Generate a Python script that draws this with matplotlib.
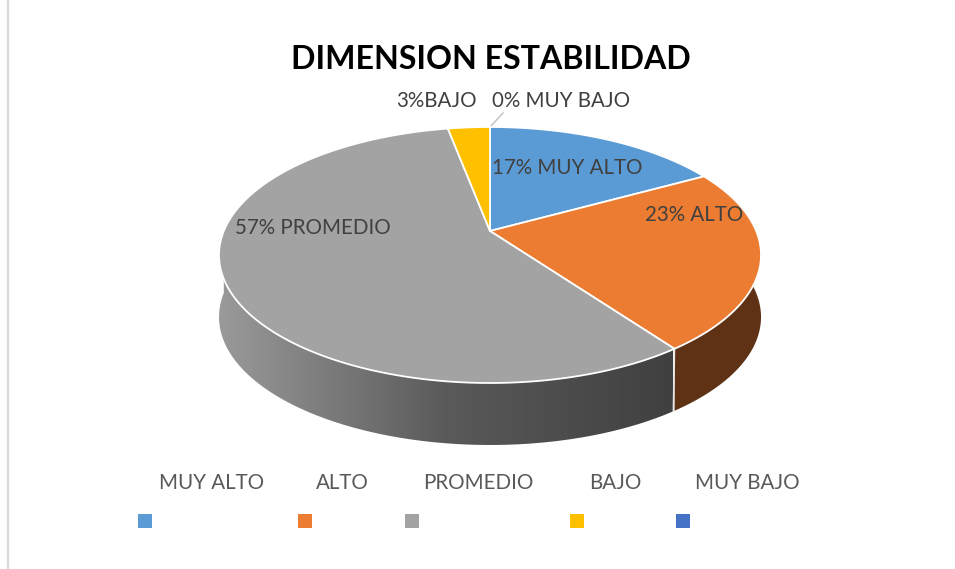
import numpy as np
import matplotlib
matplotlib.use('Agg')
import matplotlib.pyplot as plt
from matplotlib.patches import PathPatch
from matplotlib.path import Path

plt.rcParams['font.family'] = ['Lato', 'DejaVu Sans']

categories = ['MUY ALTO', 'ALTO', 'PROMEDIO', 'BAJO', 'MUY BAJO']
values = [17, 23, 57, 3, 0]
colors = ['#5B9BD5', '#EC7C31', '#A3A3A3', '#FFC000', '#4472C4']
side_orange = '#5F3216'
title = 'DIMENSION ESTABILIDAD'

# pie geometry in pixels, perspective tilt
cx, cy = 490, 231
a, b, k = 266.2, 123.5, 0.1875
depth = 62


def project(t):
    # t = clockwise angle from the top, radians
    x, y = np.sin(t), np.cos(t)
    s = 1 / (1 + k * y)
    return cx + a * x * s, cy - b * y * s


def arc(p0, p1, n=200):
    return project(np.linspace(p0, p1, n) / 100 * 2 * np.pi)


fig = plt.figure(figsize=(9.55, 5.69), dpi=100)
ax = fig.add_axes([0, 0, 1, 1])
ax.set_xlim(0, 955)
ax.set_ylim(569, 0)
ax.axis('off')

# left border of the sheet
ax.plot([8, 8], [0, 569], color='#D9D9D9', lw=1.6, zorder=1)

edges = np.cumsum([0] + values)

# side wall, grey slice has a gradient
x_top, y_top = arc(edges[2], 75)
x_all = np.r_[x_top, x_top[::-1]]
y_all = np.r_[y_top, y_top[::-1] + depth]
wall = PathPatch(Path(np.c_[x_all, y_all]), fc='none', ec='none', transform=ax.transData)
ax.add_patch(wall)
grad = np.linspace(0, 1, 256).reshape(1, -1)
cmap = matplotlib.colors.LinearSegmentedColormap.from_list(
    'g', ['#9A9A9A', '#5A5A5A', '#404040'])
im = ax.imshow(grad, extent=[219, 672, 450, 250], cmap=cmap, aspect='auto', zorder=2)
im.set_clip_path(wall)
ax.set_xlim(0, 955)
ax.set_ylim(569, 0)

# orange wall
x_top, y_top = arc(edges[1], edges[2])
ax.fill(np.r_[x_top, x_top[::-1]], np.r_[y_top, y_top[::-1] + depth],
        color=side_orange, lw=0, zorder=2)
x_e, y_e = project(edges[2] / 100 * 2 * np.pi)
ax.plot([x_e, x_e - 1], [y_e, y_e + depth], color='#E6E6E6', lw=1.2, zorder=3)

# top face
for i in range(len(values)):
    if values[i] == 0:
        continue
    xs, ys = arc(edges[i], edges[i + 1])
    ax.fill(np.r_[cx, xs], np.r_[cy, ys], fc=colors[i], ec='white', lw=1.3,
            joinstyle='round', zorder=4)

# labels
label_c = '#404040'
fs = 14.8
ax.text(492, 168, '17% MUY ALTO', color=label_c, fontsize=fs, va='center', zorder=5)
ax.text(645, 215, '23% ALTO', color=label_c, fontsize=fs, va='center', zorder=5)
ax.text(235, 228, '57% PROMEDIO', color=label_c, fontsize=fs, va='center', zorder=5)
ax.text(396, 101, '3%BAJO', color=label_c, fontsize=fs, va='center', zorder=5)
ax.text(492, 101, '0% MUY BAJO', color=label_c, fontsize=fs, va='center', zorder=5)
ax.plot([490, 503], [127, 113], color='#BFBFBF', lw=1, zorder=3)

ax.text(490.5, 59, title, color='black', fontsize=23.1, fontweight='bold',
        ha='center', va='center', zorder=5)

# legend
leg_text_x = [159, 316, 423, 589, 695]
leg_box_x = [138, 298, 405, 570, 676]
for i in range(len(categories)):
    ax.text(leg_text_x[i], 483, categories[i], color='#595959', fontsize=fs,
            va='center', zorder=5)
    ax.fill([leg_box_x[i], leg_box_x[i] + 14, leg_box_x[i] + 14, leg_box_x[i]],
            [514, 514, 528, 528], color=colors[i], lw=0, zorder=5)

fig.savefig('out.png', dpi=100)
